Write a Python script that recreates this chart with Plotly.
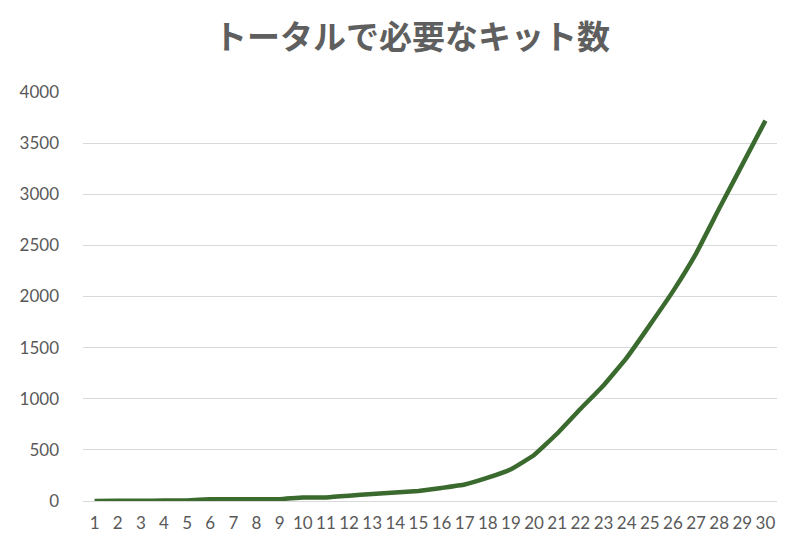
import plotly.graph_objects as go

days = [str(i) for i in range(1, 31)]
kits = [1, 2, 3, 4, 5, 18, 18, 18, 18, 35,
        35, 52, 68, 82, 98, 128, 162, 228, 310, 450,
        660, 900, 1130, 1400, 1720, 2050, 2420, 2860, 3290, 3720]
y_ticks = [0, 500, 1000, 1500, 2000, 2500, 3000, 3500, 4000]
title_text = "トータルで必要なキット数"

fig = go.Figure()
fig.add_trace(go.Scatter(
    x=days, y=kits, mode="lines",
    line=dict(color="#3a6a2e", width=4.5, shape="spline", smoothing=0.3),
    hoverinfo="x+y", showlegend=False,
))

fig.update_layout(
    width=792, height=541,
    paper_bgcolor="white", plot_bgcolor="white",
    margin=dict(l=65, r=23, t=84, b=48),
    title=dict(text=title_text, x=0.51, xanchor="center", y=0.945, yanchor="middle",
               font=dict(family="Noto Sans CJK JP", size=33, color="#5f5f5f", weight="bold")),
    font=dict(family="Lato, Noto Sans, sans-serif", size=17, color="#595959"),
)
fig.update_xaxes(
    type="category", range=[-0.5, 29.5], showgrid=False, showline=False,
    ticks="", ticklabelstandoff=10, tickfont=dict(size=17, color="#595959"),
)
fig.update_yaxes(
    range=[0, 4000], tickvals=y_ticks, showgrid=True, gridcolor="#d9d9d9", gridwidth=1,
    zeroline=True, zerolinecolor="#d9d9d9", zerolinewidth=1, showline=False,
    ticks="", ticklabelstandoff=23, tickfont=dict(size=17, color="#595959"),
)

fig.write_html("out.html")
